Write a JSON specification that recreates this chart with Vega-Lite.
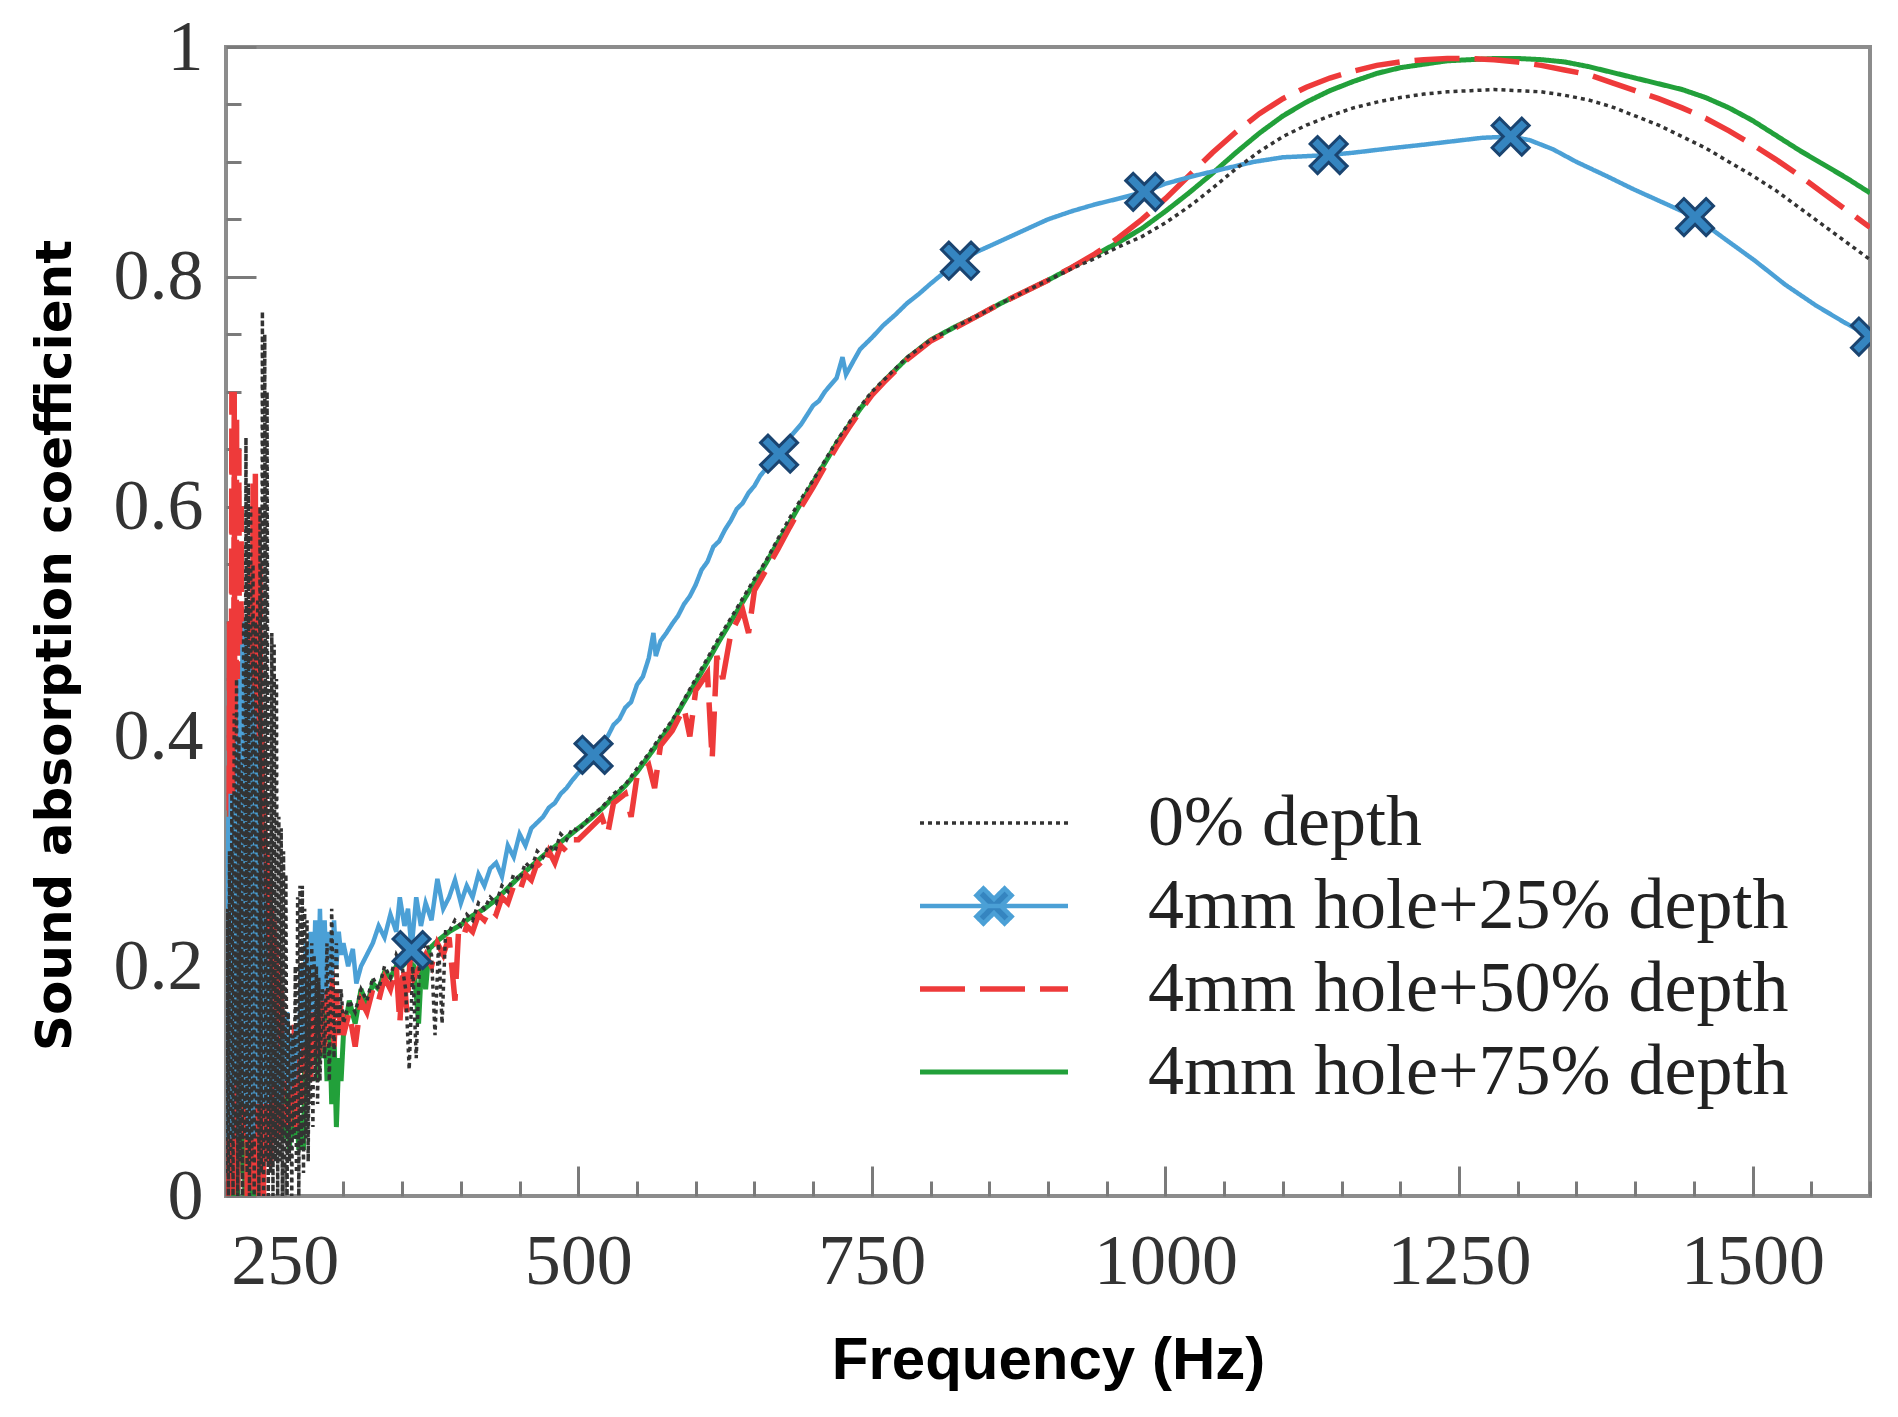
{
  "$schema": "https://vega.github.io/schema/vega-lite/v6.json",
  "width": 1644,
  "height": 1149,
  "autosize": {"type": "none"},
  "padding": {"left": 226, "top": 47, "right": 28, "bottom": 221},
  "background": "#ffffff",
  "view": {"stroke": "#8c8c8c", "strokeWidth": 4, "fill": "#ffffff"},
  "config": {
    "axis": {
      "domain": false,
      "grid": false,
      "tickColor": "#7a7a7a",
      "tickWidth": 3,
      "labelFont": "Liberation Serif",
      "labelFontSize": 72,
      "labelColor": "#333333",
      "labelOverlap": false,
      "labelFlush": false,
      "labelLimit": 0,
      "titleColor": "#000000"
    }
  },
  "datasets": {
    "curves": [
      {"s":"d","f":200,"v":0.05},{"s":"d","f":201,"v":0.25},{"s":"d","f":202,"v":0},{"s":"d","f":203,"v":0.35},{"s":"d","f":204,"v":0.02},{"s":"d","f":205,"v":0.45},{"s":"d","f":206,"v":0},{"s":"d","f":207,"v":0.5},{"s":"d","f":208,"v":0.03},{"s":"d","f":209,"v":0.45},{"s":"d","f":210,"v":0},{"s":"d","f":211,"v":0.4},{"s":"d","f":212,"v":0.05},{"s":"d","f":213,"v":0.42},{"s":"d","f":214,"v":0.02},{"s":"d","f":215,"v":0.48},{"s":"d","f":216,"v":0},{"s":"d","f":217,"v":0.5},{"s":"d","f":218,"v":0.03},{"s":"d","f":219,"v":0.46},{"s":"d","f":220,"v":0},{"s":"d","f":221,"v":0.44},{"s":"d","f":222,"v":0.03},{"s":"d","f":223,"v":0.4},{"s":"d","f":224,"v":0},{"s":"d","f":225,"v":0.38},{"s":"d","f":226,"v":0.04},{"s":"d","f":227,"v":0.35},{"s":"d","f":228,"v":0},{"s":"d","f":229,"v":0.3},{"s":"d","f":230,"v":0.05},{"s":"d","f":232,"v":0.28},{"s":"d","f":234,"v":0.05},{"s":"d","f":236,"v":0.25},{"s":"d","f":238,"v":0.06},{"s":"d","f":240,"v":0.2},{"s":"d","f":242,"v":0.05},{"s":"d","f":244,"v":0.18},{"s":"d","f":246,"v":0.07},{"s":"d","f":248,"v":0.15},{"s":"d","f":250,"v":0.05},{"s":"d","f":252,"v":0.12},{"s":"d","f":254,"v":0.04},{"s":"d","f":256,"v":0.1},{"s":"d","f":258,"v":0.05},{"s":"d","f":260,"v":0.08},{"s":"d","f":262,"v":0.04},{"s":"d","f":264,"v":0.07},{"s":"d","f":266,"v":0.04},{"s":"d","f":268,"v":0.2},{"s":"d","f":270,"v":0.1},{"s":"d","f":272,"v":0.21},{"s":"d","f":274,"v":0.12},{"s":"d","f":276,"v":0.2},{"s":"d","f":278,"v":0.1},{"s":"d","f":280,"v":0.18},{"s":"d","f":282,"v":0.12},{"s":"d","f":284,"v":0.17},{"s":"d","f":286,"v":0.1},{"s":"d","f":288,"v":0.16},{"s":"d","f":290,"v":0.08},{"s":"d","f":292,"v":0.14},{"s":"d","f":294,"v":0.06},{"s":"d","f":296,"v":0.12},{"s":"d","f":298,"v":0.1},
      {"s":"d","f":300,"v":0.14},{"s":"d","f":305,"v":0.17},{"s":"d","f":310,"v":0.15},{"s":"d","f":315,"v":0.18},{"s":"d","f":320,"v":0.165},{"s":"d","f":325,"v":0.185},{"s":"d","f":330,"v":0.18},{"s":"d","f":335,"v":0.195},{"s":"d","f":340,"v":0.19},{"s":"d","f":345,"v":0.2},{"s":"d","f":350,"v":0.2},{"s":"d","f":355,"v":0.205},{"s":"d","f":360,"v":0.2},{"s":"d","f":364,"v":0.15},{"s":"d","f":367,"v":0.21},{"s":"d","f":370,"v":0.18},{"s":"d","f":373,"v":0.215},{"s":"d","f":380,"v":0.222},{"s":"d","f":390,"v":0.23},{"s":"d","f":400,"v":0.236},{"s":"d","f":410,"v":0.244},{"s":"d","f":420,"v":0.25},{"s":"d","f":430,"v":0.258},{"s":"d","f":440,"v":0.268},{"s":"d","f":450,"v":0.278},{"s":"d","f":460,"v":0.287},{"s":"d","f":470,"v":0.296},{"s":"d","f":480,"v":0.304},{"s":"d","f":490,"v":0.312},{"s":"d","f":500,"v":0.32},{"s":"d","f":510,"v":0.328},{"s":"d","f":520,"v":0.337},{"s":"d","f":530,"v":0.347},{"s":"d","f":540,"v":0.357},{"s":"d","f":550,"v":0.369},{"s":"d","f":560,"v":0.383},{"s":"d","f":570,"v":0.397},{"s":"d","f":580,"v":0.412},{"s":"d","f":590,"v":0.43},{"s":"d","f":600,"v":0.447},{"s":"d","f":610,"v":0.465},{"s":"d","f":620,"v":0.483},{"s":"d","f":630,"v":0.5},{"s":"d","f":640,"v":0.517},{"s":"d","f":650,"v":0.534},{"s":"d","f":660,"v":0.551},{"s":"d","f":670,"v":0.569},{"s":"d","f":680,"v":0.586},{"s":"d","f":690,"v":0.604},{"s":"d","f":700,"v":0.621},{"s":"d","f":710,"v":0.638},{"s":"d","f":720,"v":0.655},{"s":"d","f":730,"v":0.67},{"s":"d","f":740,"v":0.685},{"s":"d","f":750,"v":0.698},{"s":"d","f":760,"v":0.709},{"s":"d","f":780,"v":0.729},{"s":"d","f":800,"v":0.745},{"s":"d","f":820,"v":0.756},{"s":"d","f":840,"v":0.766},{"s":"d","f":860,"v":0.777},{"s":"d","f":880,"v":0.787},{"s":"d","f":900,"v":0.797},{"s":"d","f":920,"v":0.808},{"s":"d","f":940,"v":0.819},{"s":"d","f":960,"v":0.83},{"s":"d","f":980,"v":0.842},{"s":"d","f":1000,"v":0.857},{"s":"d","f":1020,"v":0.873},{"s":"d","f":1040,"v":0.89},{"s":"d","f":1060,"v":0.908},{"s":"d","f":1080,"v":0.925},{"s":"d","f":1100,"v":0.94},{"s":"d","f":1120,"v":0.952},{"s":"d","f":1140,"v":0.962},{"s":"d","f":1160,"v":0.97},{"s":"d","f":1180,"v":0.977},{"s":"d","f":1200,"v":0.982},{"s":"d","f":1220,"v":0.985},{"s":"d","f":1240,"v":0.988},{"s":"d","f":1260,"v":0.989},{"s":"d","f":1280,"v":0.99},{"s":"d","f":1300,"v":0.99},{"s":"d","f":1320,"v":0.989},{"s":"d","f":1340,"v":0.987},{"s":"d","f":1360,"v":0.983},{"s":"d","f":1380,"v":0.978},{"s":"d","f":1400,"v":0.973},{"s":"d","f":1420,"v":0.968},{"s":"d","f":1440,"v":0.963},{"s":"d","f":1460,"v":0.956},{"s":"d","f":1480,"v":0.947},{"s":"d","f":1500,"v":0.936},{"s":"d","f":1520,"v":0.923},{"s":"d","f":1540,"v":0.91},{"s":"d","f":1560,"v":0.898},{"s":"d","f":1580,"v":0.886},{"s":"d","f":1600,"v":0.873},

      {"s":"c","f":200,"v":0.1},{"s":"c","f":201,"v":0.3},{"s":"c","f":202,"v":0},{"s":"c","f":203,"v":0.5},{"s":"c","f":204,"v":0.02},{"s":"c","f":205,"v":0.7},{"s":"c","f":206,"v":0},{"s":"c","f":207,"v":0.7},{"s":"c","f":208,"v":0.02},{"s":"c","f":209,"v":0.68},{"s":"c","f":210,"v":0},{"s":"c","f":211,"v":0.65},{"s":"c","f":212,"v":0.05},{"s":"c","f":213,"v":0.6},{"s":"c","f":214,"v":0.1},{"s":"c","f":215,"v":0.45},{"s":"c","f":216,"v":0.05},{"s":"c","f":217,"v":0.4},{"s":"c","f":218,"v":0},{"s":"c","f":219,"v":0.45},{"s":"c","f":220,"v":0},{"s":"c","f":221,"v":0.55},{"s":"c","f":222,"v":0.02},{"s":"c","f":223,"v":0.62},{"s":"c","f":224,"v":0},{"s":"c","f":225,"v":0.63},{"s":"c","f":226,"v":0.02},{"s":"c","f":227,"v":0.6},{"s":"c","f":228,"v":0},{"s":"c","f":229,"v":0.55},{"s":"c","f":230,"v":0.05},{"s":"c","f":231,"v":0.4},{"s":"c","f":232,"v":0},{"s":"c","f":233,"v":0.35},{"s":"c","f":234,"v":0.03},{"s":"c","f":235,"v":0.3},{"s":"c","f":236,"v":0.05},{"s":"c","f":237,"v":0.28},{"s":"c","f":238,"v":0.02},{"s":"c","f":239,"v":0.25},{"s":"c","f":240,"v":0.05},{"s":"c","f":241,"v":0.24},{"s":"c","f":242,"v":0.05},{"s":"c","f":243,"v":0.22},{"s":"c","f":244,"v":0.08},{"s":"c","f":245,"v":0.2},{"s":"c","f":246,"v":0.05},{"s":"c","f":247,"v":0.18},{"s":"c","f":248,"v":0.08},{"s":"c","f":249,"v":0.16},{"s":"c","f":250,"v":0.06},{"s":"c","f":251,"v":0.15},{"s":"c","f":252,"v":0.1},{"s":"c","f":253,"v":0.14},{"s":"c","f":254,"v":0.06},{"s":"c","f":255,"v":0.13},{"s":"c","f":256,"v":0.08},{"s":"c","f":258,"v":0.15},{"s":"c","f":260,"v":0.06},{"s":"c","f":262,"v":0.14},{"s":"c","f":264,"v":0.08},{"s":"c","f":266,"v":0.13},{"s":"c","f":268,"v":0.1},{"s":"c","f":270,"v":0.16},{"s":"c","f":272,"v":0.1},{"s":"c","f":274,"v":0.18},{"s":"c","f":276,"v":0.12},{"s":"c","f":278,"v":0.17},{"s":"c","f":280,"v":0.12},{"s":"c","f":282,"v":0.19},{"s":"c","f":284,"v":0.13},{"s":"c","f":286,"v":0.18},{"s":"c","f":288,"v":0.14},{"s":"c","f":290,"v":0.2},{"s":"c","f":292,"v":0.13},{"s":"c","f":294,"v":0.18},{"s":"c","f":296,"v":0.14},{"s":"c","f":298,"v":0.17},
      {"s":"c","f":300,"v":0.14},{"s":"c","f":305,"v":0.16},{"s":"c","f":310,"v":0.13},{"s":"c","f":315,"v":0.17},{"s":"c","f":320,"v":0.16},{"s":"c","f":325,"v":0.18},{"s":"c","f":330,"v":0.17},{"s":"c","f":335,"v":0.19},{"s":"c","f":340,"v":0.18},{"s":"c","f":345,"v":0.2},{"s":"c","f":348,"v":0.15},{"s":"c","f":351,"v":0.2},{"s":"c","f":354,"v":0.16},{"s":"c","f":357,"v":0.21},{"s":"c","f":360,"v":0.19},{"s":"c","f":365,"v":0.2},{"s":"c","f":370,"v":0.21},{"s":"c","f":375,"v":0.2},{"s":"c","f":380,"v":0.22},{"s":"c","f":385,"v":0.21},{"s":"c","f":390,"v":0.225},{"s":"c","f":395,"v":0.17},{"s":"c","f":398,"v":0.23},{"s":"c","f":402,"v":0.225},{"s":"c","f":405,"v":0.235},{"s":"c","f":410,"v":0.23},{"s":"c","f":415,"v":0.245},{"s":"c","f":420,"v":0.24},{"s":"c","f":425,"v":0.25},{"s":"c","f":430,"v":0.245},{"s":"c","f":435,"v":0.26},{"s":"c","f":440,"v":0.255},{"s":"c","f":445,"v":0.27},{"s":"c","f":450,"v":0.265},{"s":"c","f":455,"v":0.28},{"s":"c","f":460,"v":0.275},{"s":"c","f":465,"v":0.29},{"s":"c","f":470,"v":0.285},{"s":"c","f":475,"v":0.3},{"s":"c","f":480,"v":0.29},{"s":"c","f":485,"v":0.305},{"s":"c","f":490,"v":0.3},{"s":"c","f":495,"v":0.31},{"s":"c","f":500,"v":0.31},{"s":"c","f":510,"v":0.32},{"s":"c","f":520,"v":0.33},{"s":"c","f":525,"v":0.315},{"s":"c","f":530,"v":0.342},{"s":"c","f":540,"v":0.35},{"s":"c","f":545,"v":0.33},{"s":"c","f":550,"v":0.365},{"s":"c","f":560,"v":0.375},{"s":"c","f":565,"v":0.355},{"s":"c","f":570,"v":0.392},{"s":"c","f":580,"v":0.405},{"s":"c","f":590,"v":0.425},{"s":"c","f":595,"v":0.4},{"s":"c","f":600,"v":0.44},{"s":"c","f":610,"v":0.455},{"s":"c","f":614,"v":0.38},{"s":"c","f":618,"v":0.47},{"s":"c","f":623,"v":0.45},{"s":"c","f":630,"v":0.49},{"s":"c","f":640,"v":0.51},{"s":"c","f":645,"v":0.49},{"s":"c","f":650,"v":0.527},{"s":"c","f":660,"v":0.545},{"s":"c","f":670,"v":0.563},{"s":"c","f":680,"v":0.582},{"s":"c","f":690,"v":0.6},{"s":"c","f":700,"v":0.617},{"s":"c","f":710,"v":0.635},{"s":"c","f":720,"v":0.652},{"s":"c","f":730,"v":0.668},{"s":"c","f":740,"v":0.683},{"s":"c","f":750,"v":0.697},{"s":"c","f":760,"v":0.708},{"s":"c","f":780,"v":0.728},{"s":"c","f":800,"v":0.744},{"s":"c","f":820,"v":0.755},{"s":"c","f":840,"v":0.766},{"s":"c","f":860,"v":0.777},{"s":"c","f":880,"v":0.787},{"s":"c","f":900,"v":0.797},{"s":"c","f":920,"v":0.808},{"s":"c","f":940,"v":0.82},{"s":"c","f":960,"v":0.834},{"s":"c","f":980,"v":0.85},{"s":"c","f":1000,"v":0.868},{"s":"c","f":1020,"v":0.888},{"s":"c","f":1040,"v":0.908},{"s":"c","f":1060,"v":0.926},{"s":"c","f":1080,"v":0.942},{"s":"c","f":1100,"v":0.955},{"s":"c","f":1120,"v":0.965},{"s":"c","f":1140,"v":0.973},{"s":"c","f":1160,"v":0.979},{"s":"c","f":1180,"v":0.984},{"s":"c","f":1200,"v":0.987},{"s":"c","f":1220,"v":0.989},{"s":"c","f":1240,"v":0.99},{"s":"c","f":1260,"v":0.99},{"s":"c","f":1280,"v":0.989},{"s":"c","f":1300,"v":0.987},{"s":"c","f":1320,"v":0.984},{"s":"c","f":1340,"v":0.98},{"s":"c","f":1360,"v":0.976},{"s":"c","f":1380,"v":0.969},{"s":"c","f":1400,"v":0.962},{"s":"c","f":1420,"v":0.955},{"s":"c","f":1440,"v":0.947},{"s":"c","f":1460,"v":0.938},{"s":"c","f":1480,"v":0.927},{"s":"c","f":1500,"v":0.915},{"s":"c","f":1520,"v":0.902},{"s":"c","f":1540,"v":0.888},{"s":"c","f":1560,"v":0.873},{"s":"c","f":1580,"v":0.858},{"s":"c","f":1600,"v":0.843},

      {"s":"b","f":200,"v":0.3},{"s":"b","f":201,"v":0.05},{"s":"b","f":202,"v":0.33},{"s":"b","f":203,"v":0.08},{"s":"b","f":204,"v":0.35},{"s":"b","f":205,"v":0.05},{"s":"b","f":206,"v":0.3},{"s":"b","f":207,"v":0.1},{"s":"b","f":208,"v":0.35},{"s":"b","f":209,"v":0.1},{"s":"b","f":210,"v":0.4},{"s":"b","f":211,"v":0.05},{"s":"b","f":212,"v":0.45},{"s":"b","f":213,"v":0.1},{"s":"b","f":214,"v":0.48},{"s":"b","f":215,"v":0.08},{"s":"b","f":216,"v":0.5},{"s":"b","f":217,"v":0.1},{"s":"b","f":218,"v":0.48},{"s":"b","f":219,"v":0.05},{"s":"b","f":220,"v":0.46},{"s":"b","f":221,"v":0.1},{"s":"b","f":222,"v":0.44},{"s":"b","f":223,"v":0.05},{"s":"b","f":224,"v":0.42},{"s":"b","f":225,"v":0.08},{"s":"b","f":226,"v":0.4},{"s":"b","f":227,"v":0.1},{"s":"b","f":228,"v":0.36},{"s":"b","f":229,"v":0.08},{"s":"b","f":230,"v":0.3},{"s":"b","f":231,"v":0.1},{"s":"b","f":232,"v":0.26},{"s":"b","f":233,"v":0.08},{"s":"b","f":234,"v":0.22},{"s":"b","f":235,"v":0.1},{"s":"b","f":236,"v":0.2},{"s":"b","f":237,"v":0.08},{"s":"b","f":238,"v":0.18},{"s":"b","f":239,"v":0.1},{"s":"b","f":240,"v":0.16},{"s":"b","f":241,"v":0.1},{"s":"b","f":242,"v":0.15},{"s":"b","f":243,"v":0.08},{"s":"b","f":244,"v":0.13},{"s":"b","f":245,"v":0.1},{"s":"b","f":246,"v":0.12},{"s":"b","f":247,"v":0.08},{"s":"b","f":248,"v":0.14},{"s":"b","f":250,"v":0.1},{"s":"b","f":252,"v":0.16},{"s":"b","f":254,"v":0.09},{"s":"b","f":256,"v":0.14},{"s":"b","f":258,"v":0.1},{"s":"b","f":260,"v":0.15},{"s":"b","f":262,"v":0.12},{"s":"b","f":264,"v":0.2},{"s":"b","f":266,"v":0.13},{"s":"b","f":268,"v":0.22},{"s":"b","f":270,"v":0.15},{"s":"b","f":272,"v":0.23},{"s":"b","f":274,"v":0.16},{"s":"b","f":276,"v":0.24},{"s":"b","f":278,"v":0.15},{"s":"b","f":280,"v":0.25},{"s":"b","f":282,"v":0.17},{"s":"b","f":284,"v":0.24},{"s":"b","f":286,"v":0.18},{"s":"b","f":288,"v":0.23},{"s":"b","f":290,"v":0.19},{"s":"b","f":292,"v":0.24},{"s":"b","f":294,"v":0.2},{"s":"b","f":296,"v":0.23},{"s":"b","f":298,"v":0.21},
      {"s":"b","f":300,"v":0.22},{"s":"b","f":304,"v":0.2},{"s":"b","f":308,"v":0.215},{"s":"b","f":311,"v":0.185},{"s":"b","f":315,"v":0.2},{"s":"b","f":320,"v":0.21},{"s":"b","f":325,"v":0.22},{"s":"b","f":330,"v":0.235},{"s":"b","f":335,"v":0.225},{"s":"b","f":340,"v":0.245},{"s":"b","f":345,"v":0.23},{"s":"b","f":348,"v":0.26},{"s":"b","f":352,"v":0.235},{"s":"b","f":355,"v":0.25},{"s":"b","f":358,"v":0.215},{"s":"b","f":362,"v":0.26},{"s":"b","f":366,"v":0.235},{"s":"b","f":370,"v":0.255},{"s":"b","f":375,"v":0.24},{"s":"b","f":380,"v":0.276},{"s":"b","f":385,"v":0.25},{"s":"b","f":390,"v":0.26},{"s":"b","f":395,"v":0.275},{"s":"b","f":400,"v":0.255},{"s":"b","f":405,"v":0.27},{"s":"b","f":410,"v":0.26},{"s":"b","f":415,"v":0.28},{"s":"b","f":420,"v":0.27},{"s":"b","f":425,"v":0.285},{"s":"b","f":430,"v":0.29},{"s":"b","f":435,"v":0.278},{"s":"b","f":440,"v":0.305},{"s":"b","f":445,"v":0.295},{"s":"b","f":450,"v":0.315},{"s":"b","f":455,"v":0.305},{"s":"b","f":460,"v":0.32},{"s":"b","f":465,"v":0.325},{"s":"b","f":470,"v":0.33},{"s":"b","f":475,"v":0.338},{"s":"b","f":480,"v":0.342},{"s":"b","f":485,"v":0.35},{"s":"b","f":490,"v":0.355},{"s":"b","f":495,"v":0.362},{"s":"b","f":500,"v":0.368},{"s":"b","f":505,"v":0.372},{"s":"b","f":513,"v":0.384},{"s":"b","f":520,"v":0.395},{"s":"b","f":525,"v":0.4},{"s":"b","f":530,"v":0.41},{"s":"b","f":535,"v":0.415},{"s":"b","f":540,"v":0.425},{"s":"b","f":545,"v":0.43},{"s":"b","f":550,"v":0.445},{"s":"b","f":555,"v":0.452},{"s":"b","f":560,"v":0.468},{"s":"b","f":564,"v":0.49},{"s":"b","f":566,"v":0.47},{"s":"b","f":570,"v":0.483},{"s":"b","f":575,"v":0.49},{"s":"b","f":580,"v":0.498},{"s":"b","f":585,"v":0.505},{"s":"b","f":590,"v":0.515},{"s":"b","f":595,"v":0.522},{"s":"b","f":600,"v":0.532},{"s":"b","f":605,"v":0.545},{"s":"b","f":610,"v":0.552},{"s":"b","f":615,"v":0.565},{"s":"b","f":620,"v":0.57},{"s":"b","f":625,"v":0.58},{"s":"b","f":630,"v":0.588},{"s":"b","f":635,"v":0.598},{"s":"b","f":640,"v":0.603},{"s":"b","f":645,"v":0.612},{"s":"b","f":650,"v":0.618},{"s":"b","f":655,"v":0.627},{"s":"b","f":660,"v":0.633},{"s":"b","f":665,"v":0.64},{"s":"b","f":671,"v":0.646},{"s":"b","f":680,"v":0.66},{"s":"b","f":690,"v":0.672},{"s":"b","f":695,"v":0.68},{"s":"b","f":700,"v":0.688},{"s":"b","f":705,"v":0.692},{"s":"b","f":710,"v":0.7},{"s":"b","f":715,"v":0.706},{"s":"b","f":720,"v":0.712},{"s":"b","f":725,"v":0.73},{"s":"b","f":728,"v":0.715},{"s":"b","f":735,"v":0.728},{"s":"b","f":740,"v":0.737},{"s":"b","f":750,"v":0.747},{"s":"b","f":760,"v":0.758},{"s":"b","f":770,"v":0.767},{"s":"b","f":780,"v":0.777},{"s":"b","f":790,"v":0.785},{"s":"b","f":800,"v":0.794},{"s":"b","f":812,"v":0.804},{"s":"b","f":825,"v":0.814},{"s":"b","f":840,"v":0.822},{"s":"b","f":855,"v":0.829},{"s":"b","f":870,"v":0.836},{"s":"b","f":885,"v":0.843},{"s":"b","f":900,"v":0.85},{"s":"b","f":920,"v":0.857},{"s":"b","f":940,"v":0.863},{"s":"b","f":960,"v":0.868},{"s":"b","f":982,"v":0.874},{"s":"b","f":1000,"v":0.881},{"s":"b","f":1025,"v":0.888},{"s":"b","f":1050,"v":0.894},{"s":"b","f":1075,"v":0.9},{"s":"b","f":1100,"v":0.904},{"s":"b","f":1120,"v":0.905},{"s":"b","f":1139,"v":0.906},{"s":"b","f":1160,"v":0.908},{"s":"b","f":1193,"v":0.912},{"s":"b","f":1220,"v":0.915},{"s":"b","f":1245,"v":0.918},{"s":"b","f":1270,"v":0.921},{"s":"b","f":1294,"v":0.922},{"s":"b","f":1310,"v":0.919},{"s":"b","f":1330,"v":0.911},{"s":"b","f":1350,"v":0.9},{"s":"b","f":1375,"v":0.888},{"s":"b","f":1399,"v":0.876},{"s":"b","f":1425,"v":0.864},{"s":"b","f":1451,"v":0.852},{"s":"b","f":1475,"v":0.834},{"s":"b","f":1502,"v":0.814},{"s":"b","f":1528,"v":0.793},{"s":"b","f":1554,"v":0.775},{"s":"b","f":1577,"v":0.761},{"s":"b","f":1600,"v":0.748},

      {"s":"a","f":200,"v":0.02},{"s":"a","f":201,"v":0.25},{"s":"a","f":202,"v":0},{"s":"a","f":203,"v":0.3},{"s":"a","f":204,"v":0.02},{"s":"a","f":205,"v":0.35},{"s":"a","f":206,"v":0},{"s":"a","f":207,"v":0.42},{"s":"a","f":208,"v":0.05},{"s":"a","f":209,"v":0.45},{"s":"a","f":210,"v":0},{"s":"a","f":211,"v":0.4},{"s":"a","f":212,"v":0.03},{"s":"a","f":213,"v":0.38},{"s":"a","f":214,"v":0},{"s":"a","f":215,"v":0.5},{"s":"a","f":216,"v":0.05},{"s":"a","f":217,"v":0.66},{"s":"a","f":218,"v":0.02},{"s":"a","f":219,"v":0.62},{"s":"a","f":220,"v":0},{"s":"a","f":221,"v":0.6},{"s":"a","f":222,"v":0.03},{"s":"a","f":223,"v":0.55},{"s":"a","f":224,"v":0},{"s":"a","f":225,"v":0.5},{"s":"a","f":226,"v":0.05},{"s":"a","f":227,"v":0.52},{"s":"a","f":228,"v":0},{"s":"a","f":229,"v":0.6},{"s":"a","f":230,"v":0.02},{"s":"a","f":231,"v":0.77},{"s":"a","f":232,"v":0},{"s":"a","f":233,"v":0.75},{"s":"a","f":234,"v":0.03},{"s":"a","f":235,"v":0.7},{"s":"a","f":236,"v":0},{"s":"a","f":237,"v":0.45},{"s":"a","f":238,"v":0.02},{"s":"a","f":239,"v":0.49},{"s":"a","f":240,"v":0},{"s":"a","f":241,"v":0.48},{"s":"a","f":242,"v":0.03},{"s":"a","f":243,"v":0.45},{"s":"a","f":244,"v":0},{"s":"a","f":245,"v":0.33},{"s":"a","f":246,"v":0.03},{"s":"a","f":247,"v":0.32},{"s":"a","f":248,"v":0},{"s":"a","f":249,"v":0.3},{"s":"a","f":250,"v":0.02},{"s":"a","f":251,"v":0.28},{"s":"a","f":252,"v":0},{"s":"a","f":253,"v":0.16},{"s":"a","f":254,"v":0.03},{"s":"a","f":255,"v":0.15},{"s":"a","f":256,"v":0},{"s":"a","f":257,"v":0.14},{"s":"a","f":258,"v":0.05},{"s":"a","f":259,"v":0.2},{"s":"a","f":260,"v":0.02},{"s":"a","f":261,"v":0.26},{"s":"a","f":262,"v":0},{"s":"a","f":263,"v":0.27},{"s":"a","f":264,"v":0.04},{"s":"a","f":265,"v":0.27},{"s":"a","f":266,"v":0.02},{"s":"a","f":267,"v":0.25},{"s":"a","f":268,"v":0.05},{"s":"a","f":269,"v":0.24},{"s":"a","f":270,"v":0.03},{"s":"a","f":271,"v":0.2},{"s":"a","f":272,"v":0.08},{"s":"a","f":273,"v":0.22},{"s":"a","f":274,"v":0.06},{"s":"a","f":275,"v":0.21},{"s":"a","f":276,"v":0.1},{"s":"a","f":277,"v":0.2},{"s":"a","f":278,"v":0.08},{"s":"a","f":279,"v":0.19},{"s":"a","f":280,"v":0.1},{"s":"a","f":282,"v":0.18},{"s":"a","f":284,"v":0.12},{"s":"a","f":286,"v":0.22},{"s":"a","f":288,"v":0.1},{"s":"a","f":290,"v":0.25},{"s":"a","f":292,"v":0.12},{"s":"a","f":294,"v":0.22},{"s":"a","f":296,"v":0.14},{"s":"a","f":298,"v":0.18},
      {"s":"a","f":300,"v":0.15},{"s":"a","f":305,"v":0.17},{"s":"a","f":310,"v":0.16},{"s":"a","f":315,"v":0.18},{"s":"a","f":320,"v":0.17},{"s":"a","f":325,"v":0.19},{"s":"a","f":330,"v":0.18},{"s":"a","f":335,"v":0.2},{"s":"a","f":340,"v":0.19},{"s":"a","f":345,"v":0.21},{"s":"a","f":350,"v":0.2},{"s":"a","f":353,"v":0.18},{"s":"a","f":356,"v":0.11},{"s":"a","f":359,"v":0.2},{"s":"a","f":362,"v":0.12},{"s":"a","f":365,"v":0.21},{"s":"a","f":370,"v":0.22},{"s":"a","f":375,"v":0.21},{"s":"a","f":378,"v":0.14},{"s":"a","f":381,"v":0.22},{"s":"a","f":384,"v":0.15},{"s":"a","f":387,"v":0.23},{"s":"a","f":390,"v":0.23},{"s":"a","f":395,"v":0.24},{"s":"a","f":400,"v":0.235},{"s":"a","f":405,"v":0.245},{"s":"a","f":410,"v":0.24},{"s":"a","f":415,"v":0.255},{"s":"a","f":420,"v":0.25},{"s":"a","f":425,"v":0.26},{"s":"a","f":430,"v":0.255},{"s":"a","f":435,"v":0.27},{"s":"a","f":440,"v":0.265},{"s":"a","f":445,"v":0.28},{"s":"a","f":450,"v":0.275},{"s":"a","f":455,"v":0.29},{"s":"a","f":460,"v":0.285},{"s":"a","f":465,"v":0.3},{"s":"a","f":470,"v":0.295},{"s":"a","f":475,"v":0.305},{"s":"a","f":480,"v":0.3},{"s":"a","f":485,"v":0.315},{"s":"a","f":490,"v":0.31},{"s":"a","f":495,"v":0.32},{"s":"a","f":500,"v":0.318},{"s":"a","f":510,"v":0.33},{"s":"a","f":520,"v":0.338},{"s":"a","f":530,"v":0.35},{"s":"a","f":540,"v":0.358},{"s":"a","f":550,"v":0.372},{"s":"a","f":560,"v":0.385},{"s":"a","f":570,"v":0.4},{"s":"a","f":580,"v":0.414},{"s":"a","f":590,"v":0.432},{"s":"a","f":600,"v":0.45},{"s":"a","f":610,"v":0.468},{"s":"a","f":620,"v":0.486},{"s":"a","f":630,"v":0.503},{"s":"a","f":640,"v":0.52},{"s":"a","f":650,"v":0.537},{"s":"a","f":660,"v":0.553},{"s":"a","f":670,"v":0.572},{"s":"a","f":680,"v":0.59},{"s":"a","f":690,"v":0.607},{"s":"a","f":700,"v":0.623},{"s":"a","f":710,"v":0.64},{"s":"a","f":720,"v":0.657},{"s":"a","f":730,"v":0.672},{"s":"a","f":740,"v":0.687},{"s":"a","f":750,"v":0.7},{"s":"a","f":760,"v":0.71},{"s":"a","f":780,"v":0.73},{"s":"a","f":800,"v":0.745},{"s":"a","f":820,"v":0.756},{"s":"a","f":840,"v":0.766},{"s":"a","f":860,"v":0.777},{"s":"a","f":880,"v":0.787},{"s":"a","f":900,"v":0.797},{"s":"a","f":920,"v":0.807},{"s":"a","f":940,"v":0.816},{"s":"a","f":960,"v":0.826},{"s":"a","f":980,"v":0.835},{"s":"a","f":1000,"v":0.847},{"s":"a","f":1020,"v":0.861},{"s":"a","f":1040,"v":0.877},{"s":"a","f":1060,"v":0.894},{"s":"a","f":1080,"v":0.909},{"s":"a","f":1100,"v":0.922},{"s":"a","f":1120,"v":0.932},{"s":"a","f":1140,"v":0.94},{"s":"a","f":1160,"v":0.947},{"s":"a","f":1180,"v":0.952},{"s":"a","f":1200,"v":0.956},{"s":"a","f":1220,"v":0.959},{"s":"a","f":1240,"v":0.961},{"s":"a","f":1260,"v":0.962},{"s":"a","f":1280,"v":0.963},{"s":"a","f":1300,"v":0.962},{"s":"a","f":1320,"v":0.961},{"s":"a","f":1340,"v":0.958},{"s":"a","f":1360,"v":0.954},{"s":"a","f":1380,"v":0.948},{"s":"a","f":1400,"v":0.94},{"s":"a","f":1420,"v":0.932},{"s":"a","f":1440,"v":0.922},{"s":"a","f":1460,"v":0.912},{"s":"a","f":1480,"v":0.9},{"s":"a","f":1500,"v":0.888},{"s":"a","f":1520,"v":0.875},{"s":"a","f":1540,"v":0.86},{"s":"a","f":1560,"v":0.845},{"s":"a","f":1580,"v":0.83},{"s":"a","f":1600,"v":0.815}
    ],
    "markers": [
      {"f":358,"v":0.214},{"f":513,"v":0.384},{"f":671,"v":0.646},{"f":825,"v":0.814},{"f":982,"v":0.874},{"f":1139,"v":0.906},{"f":1294,"v":0.922},{"f":1451,"v":0.852},{"f":1600,"v":0.748}
    ]
  },
  "encoding": {
    "x": {
      "field": "f",
      "type": "quantitative",
      "scale": {"domain": [200, 1600], "nice": false, "zero": false},
      "axis": {
        "values": [200,250,300,350,400,450,500,550,600,650,700,750,800,850,900,950,1000,1050,1100,1150,1200,1250,1300,1350,1400,1450,1500,1550,1600],
        "labelExpr": "datum.value % 250 === 0 ? format(datum.value, 'd') : ''",
        "tickSize": {"condition": {"test": "datum.value % 250 === 0", "value": -30}, "value": -15},
        "labelPadding": 117,
        "labelBaseline": "alphabetic",
        "title": "Frequency (Hz)",
        "titleFont": "Liberation Sans",
        "titleFontWeight": "bold",
        "titleFontSize": 60,
        "titleX": 822,
        "titleY": 182,
        "titleAlign": "center",
        "titleBaseline": "alphabetic"
      }
    },
    "y": {
      "field": "v",
      "type": "quantitative",
      "scale": {"domain": [0, 1], "nice": false},
      "axis": {
        "values": [0,0.05,0.1,0.15,0.2,0.25,0.3,0.35,0.4,0.45,0.5,0.55,0.6,0.65,0.7,0.75,0.8,0.85,0.9,0.95,1],
        "labelExpr": "round(datum.value*100) % 20 === 0 ? format(datum.value, '~g') : ''",
        "tickSize": {"condition": {"test": "round(datum.value*100) % 20 === 0", "value": -30}, "value": -15},
        "labelPadding": 53,
        "labelBaseline": "middle",
        "title": "Sound absorption coefficient",
        "titleFont": "DejaVu Sans",
        "titleFontWeight": "bold",
        "titleFontSize": 50,
        "titleAngle": -90,
        "titleX": -156,
        "titleY": 598,
        "titleAlign": "center",
        "titleBaseline": "alphabetic"
      }
    }
  },
  "layer": [
    {
      "data": {"name": "curves"},
      "mark": {"type": "line", "clip": true},
      "encoding": {
        "color": {
          "field": "s",
          "type": "nominal",
          "scale": {"domain": ["a", "b", "c", "d"], "range": ["#333333", "#4ba0d6", "#ee3a3a", "#22a03a"]},
          "legend": {
            "orient": "none",
            "legendX": 732,
            "legendY": 740,
            "title": null,
            "padding": 0,
            "symbolType": "M-4,0H4",
            "symbolSize": 1369,
            "labelFont": "Liberation Serif",
            "labelFontSize": 72,
            "labelColor": "#222222",
            "labelLimit": 0,
            "labelOffset": 118,
            "rowPadding": 11,
            "labelExpr": "datum.label == 'a' ? '0% depth' : datum.label == 'b' ? '4mm hole+25% depth' : datum.label == 'c' ? '4mm hole+50% depth' : '4mm hole+75% depth'",
            "encode": {
              "symbols": {
                "update": {
                  "shape": {"signal": "datum.value == 'b' ? 'M-4,0H4M-0.95,-0.57L-0.57,-0.95L0,-0.38L0.57,-0.95L0.95,-0.57L0.38,0L0.95,0.57L0.57,0.95L0,0.38L-0.57,0.95L-0.95,0.57L-0.38,0Z' : 'M-4,0H4'"},
                  "fill": {"signal": "datum.value == 'b' ? '#3585c0' : 'transparent'"},
                  "strokeWidth": {"signal": "datum.value == 'a' ? 3.5 : datum.value == 'b' ? 4 : datum.value == 'c' ? 5.5 : 5"}
                }
              }
            }
          }
        },
        "strokeDash": {
          "field": "s",
          "type": "nominal",
          "scale": {"domain": ["a", "b", "c", "d"], "range": [[4, 4], [1, 0], [45, 15], [1, 0]]}
        },
        "strokeWidth": {
          "field": "s",
          "type": "nominal",
          "scale": {"type": "ordinal", "domain": ["a", "b", "c", "d"], "range": [3.5, 4.5, 5.5, 5]},
          "legend": null
        }
      }
    },
    {
      "data": {"name": "markers"},
      "mark": {
        "type": "point",
        "shape": "M-1,-0.6L-0.6,-1L0,-0.4L0.6,-1L1,-0.6L0.4,0L1,0.6L0.6,1L0,0.4L-0.6,1L-1,0.6L-0.4,0Z",
        "filled": true,
        "fill": "#3585c0",
        "stroke": "#1a4470",
        "strokeWidth": 3,
        "size": 1369,
        "opacity": 1,
        "clip": true
      }
    }
  ]
}
